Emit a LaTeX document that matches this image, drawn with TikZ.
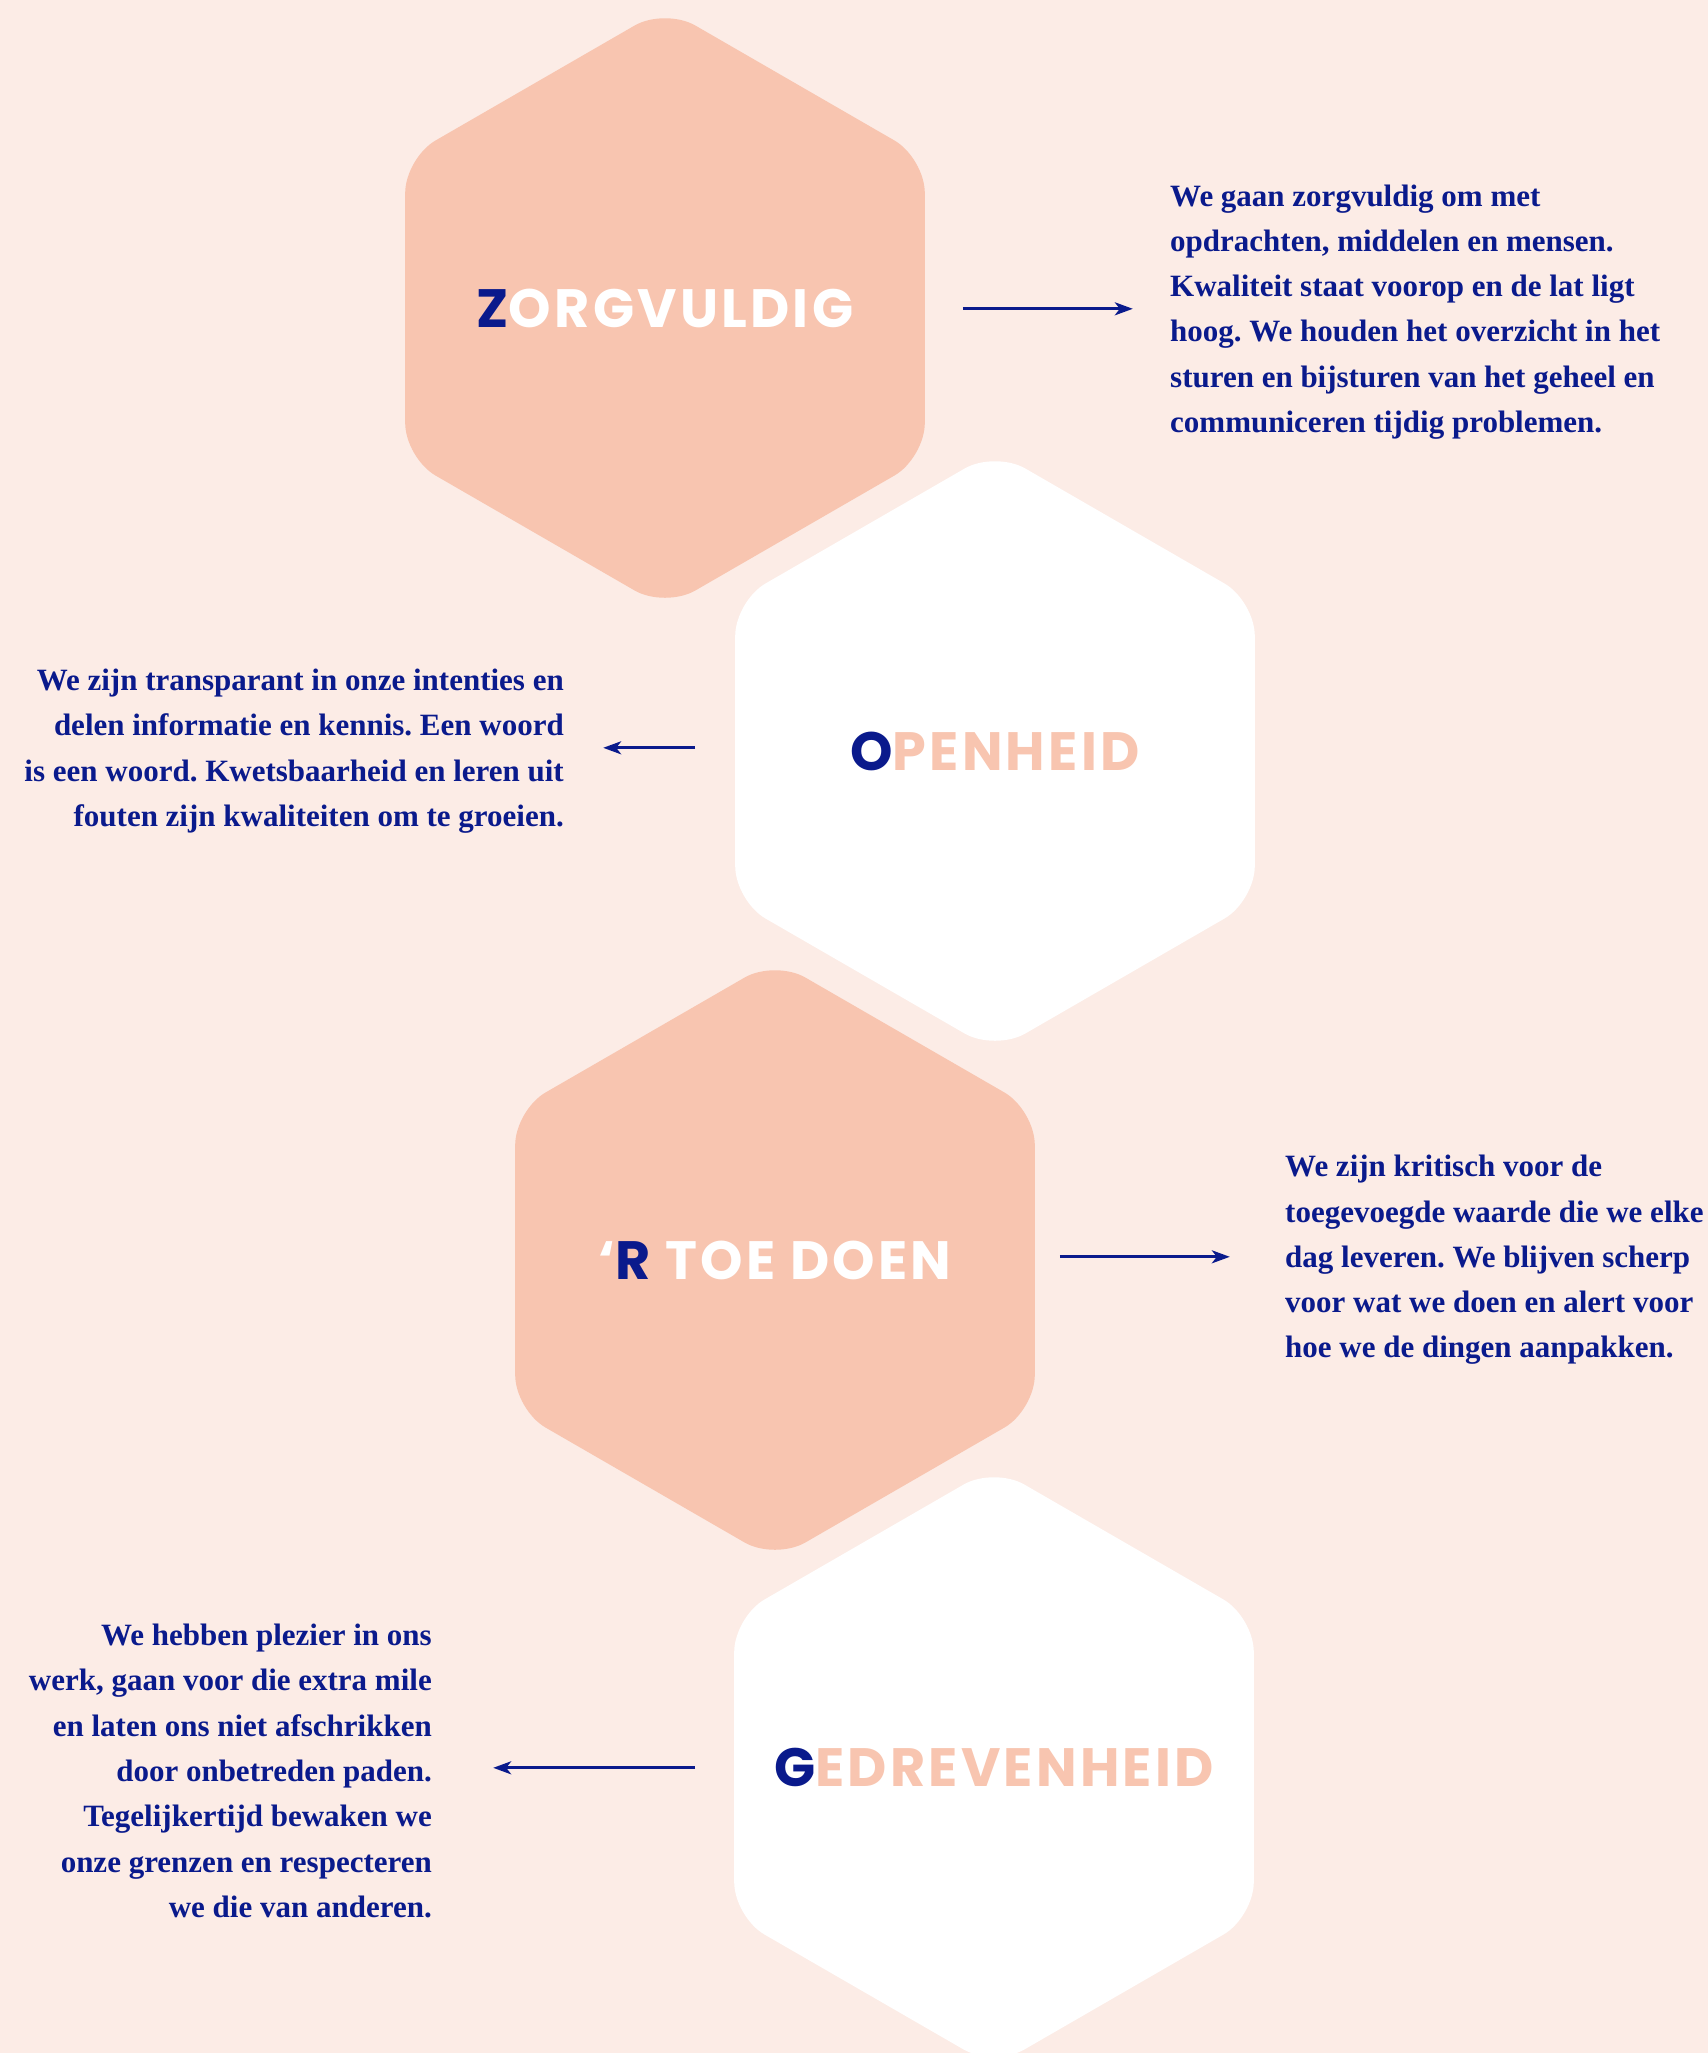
\documentclass[tikz,border=0pt]{standalone}
\usepackage{fontspec}
\usetikzlibrary{shapes.geometric,positioning,arrows.meta}
\newfontfamily\titlefont{Poppins}[LetterSpace=6]
\newfontfamily\bodyfont{Liberation Serif}
\definecolor{bgpink}{HTML}{FCECE6}
\definecolor{peach}{HTML}{F8C5B0}
\definecolor{navy}{HTML}{0A1A8C}
\tikzset{
    hexa/.style = {regular polygon, regular polygon sides=6,
        shape border rotate=30, minimum size=300pt, inner sep=0pt,
        outer sep=0pt, rounded corners=17.5pt},
    peachhex/.style = {hexa, fill=peach},
    whitehex/.style = {hexa, fill=white},
    title/.style = {inner sep=0pt,
        font=\titlefont\bfseries\fontsize{27}{30}\selectfont},
    body/.style = {inner sep=0pt, text=navy,
        font=\bodyfont\bfseries\fontsize{15.5}{22.65}\selectfont\frenchspacing},
    arrow/.style = {draw=navy, line width=1.4pt, transform canvas={yshift=1.6pt},
        -{Stealth[length=9pt,width=6.5pt,inset=2.5pt]}}
}
\newcommand{\navyletter}[1]{\textcolor{navy}{#1}}

\begin{document}
\begin{tikzpicture}[x=0.5pt, y=-0.5pt]
    \fill [bgpink] (0,0) rectangle (1708,2053);
    \useasboundingbox (0,0) rectangle (1708,2053);
    % hexagons
    \node [peachhex] (zorg) at (665,308) {};
    \node [whitehex] (open) at (995,751) {};
    \node [peachhex] (doen) at (775,1260) {};
    \node [whitehex] (gedr) at (994,1767) {};
    % titles
    \node [title, text=white] (zorglbl) at (zorg.center) {\navyletter{Z}ORGVULDIG};
    \node [title, text=peach] (openlbl) at (open.center) {\navyletter{O}PENHEID};
    \node [title, text=white] (doenlbl) at (doen.center) {‘\navyletter{R} TOE DOEN};
    \node [title, text=peach] (gedrlbl) at (gedr.center) {\navyletter{G}EDREVENHEID};
    % texts
    \node [body, align=left, right=122.5pt of zorg, yshift=-2pt] (zorgtxt) {We gaan zorgvuldig om met\\
        opdrachten, middelen en mensen.\\
        Kwaliteit staat voorop en de lat ligt\\
        hoog. We houden het overzicht in het\\
        sturen en bijsturen van het geheel en\\
        communiceren tijdig problemen.};
    \node [body, align=right, left=85.5pt of open] (opentxt) {We zijn transparant in onze intenties en\\
        delen informatie en kennis. Een woord\\
        is een woord. Kwetsbaarheid en leren uit\\
        fouten zijn kwaliteiten om te groeien.};
    \node [body, align=left, right=125pt of doen] (doentxt) {We zijn kritisch voor de\\
        toegevoegde waarde die we elke\\
        dag leveren. We blijven scherp\\
        voor wat we doen en alert voor\\
        hoe we de dingen aanpakken.};
    \node [body, align=right, left=151pt of gedr, yshift=-2pt] (gedrtxt) {We hebben plezier in ons\\
        werk, gaan voor die extra mile\\
        en laten ons niet afschrikken\\
        door onbetreden paden.\\
        Tegelijkertijd bewaken we\\
        onze grenzen en respecteren\\
        we die van anderen.};
    % arrows
    \draw [arrow, shorten <=19pt, shorten >=18.5pt] (zorg.east |- zorgtxt.west) -- (zorgtxt.west);
    \draw [arrow, shorten <=20pt, shorten >=19.5pt] (open.west |- opentxt.east) -- (opentxt.east);
    \draw [arrow, shorten <=12.5pt, shorten >=27.5pt] (doen.east |- doentxt.west) -- (doentxt.west);
    \draw [arrow, shorten <=19.5pt, shorten >=30.5pt] (gedr.west |- gedrtxt.east) -- (gedrtxt.east);
\end{tikzpicture}
\end{document}
